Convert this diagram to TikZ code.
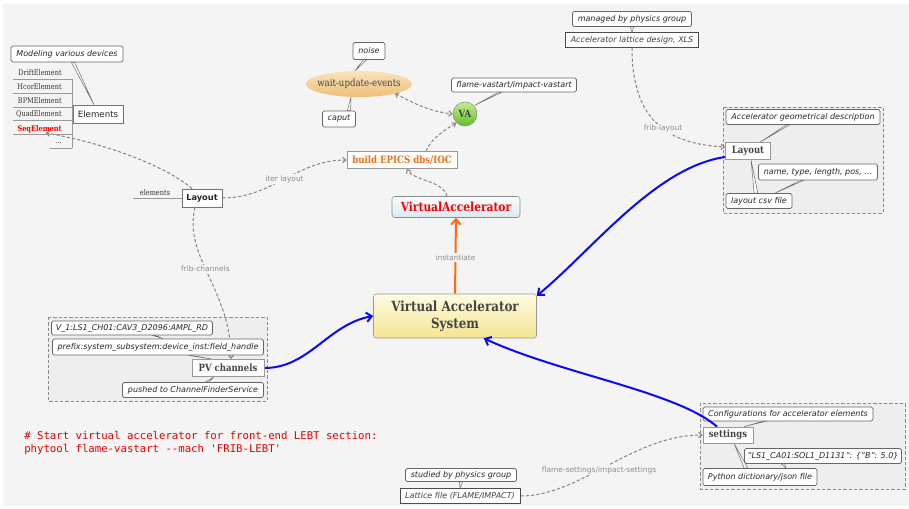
\documentclass[tikz,border=0pt]{standalone}
\usepackage{fontspec}
\setmainfont{DejaVu Sans}
\newfontfamily\slab{DejaVu Serif}[FakeStretch=0.85]
\newfontfamily\monof{DejaVu Sans Mono}
\usetikzlibrary{arrows.meta,calc,shapes.geometric}
\pgfdeclarelayer{back}
\pgfdeclarelayer{bg}
\pgfsetlayers{back,bg,main}
\definecolor{bggray}{HTML}{F4F4F4}
\definecolor{grpfill}{HTML}{EEEEEE}
\definecolor{dashc}{HTML}{8D817B}
\definecolor{lblc}{HTML}{8C8C8C}
\definecolor{vablue}{HTML}{0A0AF5}
\definecolor{vaorange}{HTML}{FF6A10}
\definecolor{buildorange}{HTML}{E8731A}
\definecolor{txtdark}{HTML}{444444}
\definecolor{elltop}{HTML}{FAE3BD}
\definecolor{ellbot}{HTML}{EEBE78}
\definecolor{vatop}{HTML}{C2EE8A}
\definecolor{vabot}{HTML}{62BE2C}
\definecolor{vacctop}{HTML}{FAFDFF}
\definecolor{vaccbot}{HTML}{D8EAF2}
\definecolor{vastop}{HTML}{FEFBE2}
\definecolor{vasbot}{HTML}{F5E592}
\tikzset{
  sz/.style 2 args={minimum width=#1*0.75pt, minimum height=#2*0.75pt},
  callbox/.style={draw=black!60, fill=white, rounded corners=1.2pt, inner sep=0pt,
    font=\itshape\fontsize{6}{7}\selectfont, text=black!85, line width=0.5pt},
  srcbox/.style={draw=black!70, fill=white, inner sep=0pt, line width=0.7pt,
    font=\itshape\fontsize{6}{7}\selectfont, text=black!75},
  plainbox/.style={draw=black!55, fill=white, inner sep=0pt, line width=0.5pt},
  slabbox/.style={draw=black!40, fill=white, inner sep=0pt, line width=0.5pt,
    font=\slab\bfseries\fontsize{7.5}{9}\selectfont, text=txtdark},
  itemtxt/.style={inner sep=0pt, font=\slab\fontsize{5.8}{7}\selectfont, text=black!80},
  itemline/.style={draw=black!40, line width=0.7pt},
  grpbox/.style={draw=black!45, dash pattern=on 2.5pt off 1.5pt, fill=grpfill, line width=0.6pt},
  dconn/.style={draw=dashc, line width=0.75pt, dash pattern=on 2.4pt off 1.6pt,
    -{Straight Barb[length=2.5pt,width=4pt]}},
  dlbl/.style={font=\fontsize{5.6}{7}\selectfont, text=lblc, inner sep=1pt},
  bconn/.style={draw=vablue, line width=1.5pt, -{Straight Barb[length=4pt,width=7pt]}},
  tailst/.style={draw=black!55, fill=white, line width=0.4pt, line join=miter},
}
% tail: base node anchor, x offset, tip node anchor, x offset, half width
\newcommand\tailw[5]{%
  \begin{pgfonlayer}{bg}
  \filldraw[tailst] ($(#1)+(#2-#5,0)$) -- ($(#3)+(#4,0)$) -- ($(#1)+(#2+#5,0)$) -- cycle;
  \end{pgfonlayer}}
\begin{document}
\begin{tikzpicture}[x=0.75pt,y=-0.75pt]
\useasboundingbox (0,0) rectangle (909,508);
\begin{pgfonlayer}{back}
\fill[bggray] (3,4) rectangle (909,506);
% group boxes
\draw[grpbox] (48,317) rectangle (267,401);
\draw[grpbox] (723,107) rectangle (883,213);
\draw[grpbox] (700,403) rectangle (905,489);
\end{pgfonlayer}

% ---------- Elements ----------
\node[callbox, sz={112}{16}] (mod) at (67,54) {Modeling various devices};
\node[plainbox, sz={50}{18}, font=\fontsize{6.5}{8}\selectfont, text=black!85] (elems) at (98,114) {Elements};
\node[itemtxt, anchor=east] (drift) at (62,73) {DriftElement};
\node[itemtxt, anchor=east] (hcor) at (62,87) {HcorElement};
\node[itemtxt, anchor=east] (bpm) at (62,101) {BPMElement};
\node[itemtxt, anchor=east] (quad) at (62,114) {QuadElement};
\node[itemtxt, anchor=east, text=red, font=\slab\bfseries\fontsize{5.8}{7}\selectfont] (seq) at (62,129) {SeqElement};
\node[itemtxt, anchor=east] (dots) at (62,143) {...};
\draw[itemline] (13,79) -- (72,79);
\draw[itemline] (13,93) -- (72,93);
\draw[itemline] (13,107) -- (72,107);
\draw[itemline] (13,120) -- (72,120);
\draw[itemline] (13,134) -- (72,134);
\draw[itemline] (50,148) -- (72,148);
\draw[itemline] (72,79) -- (72,148);
\tailw{mod.south}{6}{elems.north}{-4}{1.6}

% ---------- Left Layout ----------
\node[plainbox, sz={40}{18}, font=\bfseries\fontsize{6.2}{7}\selectfont, text=black!85] (layL) at (202,198) {Layout};
\node[itemtxt, anchor=south] (elbl) at (155,196) {elements};
\draw[itemline] (133,198) -- (layL.west);

% ---------- top center ----------
\node[slabbox, sz={110}{17}, text=buildorange, font=\slab\bfseries\fontsize{7.6}{9}\selectfont] (build) at (402,160) {build EPICS dbs/IOC};
\node[circle, draw=black!45, line width=0.4pt, minimum size=24*0.75pt, inner sep=0pt,
      top color=vatop, bottom color=vabot,
      font=\slab\bfseries\fontsize{7.5}{9}\selectfont, text=txtdark] (va) at (465,114) {VA};
\node[ellipse, draw=none, minimum width=106*0.75pt, minimum height=26*0.75pt, inner sep=0pt,
      top color=elltop, bottom color=ellbot] (wait) at (359,84) {};
\node[inner sep=0pt, font=\slab\fontsize{7.6}{9}\selectfont, text=txtdark] (waittxt) at (wait.center) {wait-update-events};
\node[callbox, sz={32}{17}] (noise) at (369,51) {noise};
\node[callbox, sz={33}{16}] (caput) at (339,119) {caput};
\node[callbox, sz={125}{14}] (flame) at (514,85) {flame-vastart/impact-vastart};
\tailw{noise.south}{-4}{wait.north}{-4}{1.6}
\tailw{caput.north}{10}{wait.south}{-8}{1.6}
\tailw{flame.south}{-14}{va.north east}{1}{1.6}

\node[draw=black!45, rounded corners=2pt, sz={128}{21}, inner sep=0pt,
      top color=vacctop, bottom color=vaccbot,
      font=\slab\bfseries\fontsize{9.4}{11}\selectfont, text=red] (vacc) at (456,207) {VirtualAccelerator};
\node[draw=black!40, rounded corners=2pt, sz={163}{44}, inner sep=0pt, align=center,
      top color=vastop, bottom color=vasbot,
      font=\slab\bfseries\fontsize{10.5}{12.5}\selectfont, text=txtdark] (vas) at (455,316) {Virtual Accelerator\\System};

% ---------- right group ----------
\node[callbox, sz={154}{15}] (geo) at (803,117) {Accelerator geometrical description};
\node[slabbox, sz={45}{17}] (layR) at (748,151) {Layout};
\node[callbox, sz={119}{16}] (nameb) at (818,172) {name, type, length, pos, ...};
\node[callbox, sz={66}{15}] (csv) at (759,201) {layout csv file};
\node[callbox, sz={119}{15}] (managed) at (632,19) {managed by physics group};
\node[srcbox, sz={133}{15}] (xls) at (632,40) {Accelerator lattice design, XLS};
\tailw{geo.south}{-15}{layR.north}{12}{1.6}
\tailw{nameb.south}{-16}{csv.north}{16}{1.6}
\tailw{csv.north}{-3}{layR.south}{3}{1.8}
\tailw{managed.south}{0}{xls.north}{0}{1.6}

% ---------- PV group ----------
\node[callbox, sz={161}{14}] (v1) at (132,328) {V\_1:LS1\_CH01:CAV3\_D2096:AMPL\_RD};
\node[callbox, sz={211}{16}] (prefix) at (158,347) {prefix:system\_subsystem:device\_inst:field\_handle};
\node[slabbox, sz={72}{17}] (pv) at (228,368) {PV channels};
\node[callbox, sz={141}{15}] (pushed) at (193,390) {pushed to ChannelFinderService};
\tailw{v1.south}{22}{prefix.north}{5}{1.6}
\tailw{prefix.south}{32}{pv.north}{-16}{1.8}
\tailw{pushed.north}{14}{pv.south}{-14}{1.6}

% ---------- settings group ----------
\node[callbox, sz={170}{14}] (conf) at (788,414) {Configurations for accelerator elements};
\node[slabbox, sz={50}{16}] (sett) at (728,435) {settings};
\node[callbox, sz={157}{15}] (ls1) at (823,456) {"LS1\_CA01:SOL1\_D1131": \{"B": 5.0\}};
\node[callbox, sz={114}{17}] (py) at (760,477) {Python dictionary/json file};
\node[callbox, sz={111}{13}] (studied) at (461,475) {studied by physics group};
\node[srcbox, sz={120}{15}] (lattice) at (460,496) {Lattice file (FLAME/IMPACT)};
\tailw{conf.south}{-24}{sett.north}{16}{1.6}
\tailw{py.north}{-14}{sett.south}{6}{1.8}
\tailw{ls1.south}{-40}{py.north}{26}{1.6}
\tailw{studied.south}{0}{lattice.north}{0}{1.6}

% ---------- code ----------
\node[anchor=north west, inner sep=0pt, align=left, text=red!90!black,
      font=\monof\fontsize{8}{9.6}\selectfont] (code) at (24,431)
  {\# Start virtual accelerator for front-end LEBT section:\\phytool flame-vastart --mach 'FRIB-LEBT'};

% ---------- connectors ----------
\begin{pgfonlayer}{bg}
\draw[dconn] ($(layL.north)+(-10,0)$) .. controls +(-25,-22) and +(60,10) .. ($(seq.south)+(6,0)$);
\draw[dconn] (layL.east) .. controls +(50,0) and +(-50,0) .. node[dlbl, pos=0.5, fill=bggray] {iter layout} (build.west);
\draw[dconn] ($(layL.south)+(-7,0)$) .. controls +(-12,50) and +(0,-70) .. node[dlbl, pos=0.45, fill=bggray] {frib-channels} ($(pv.north)+(3,0)$);
\draw[dconn] ($(build.north)+(24,0)$) .. controls +(6,-14) and +(-12,8) .. (va.south west);
\draw[dconn] ($(vacc.north)+(-9,0)$) .. controls +(-4,-16) and +(6,12) .. ($(build.south)+(5,0)$);
\draw[dconn, {Straight Barb[length=2.5pt,width=4pt]}-{Straight Barb[length=2.5pt,width=4pt]}] ($(wait.south east)+(-2,0)$) .. controls +(20,10) and +(-25,-3) .. (va.west);
\draw[dconn] (xls.south) .. controls +(0,75) and +(-55,-3) .. node[dlbl, pos=0.55, fill=bggray] {frib-layout} ($(layR.west)+(0,-4)$);
\draw[dconn] (lattice.east) .. controls +(60,0) and +(-70,0) .. node[dlbl, pos=0.45, fill=bggray] {flame-settings/impact-settings} (sett.west);
\draw[draw=vaorange, line width=1.5pt, -{Straight Barb[length=4pt,width=7pt]}] (vas.north) -- node[dlbl, fill=bggray, pos=0.48] {instantiate} (vacc.south);
\draw[bconn] (pv.east) .. controls +(45,0) and +(-45,8) .. (vas.west);
\draw[bconn] ($(layR.west)+(0,6)$) .. controls +(-70,10) and +(55,-45) .. ($(vas.north east)+(0,2)$);
\end{pgfonlayer}
\draw[bconn] ($(sett.north)+(-11,0)$) .. controls +(-40,-35) and +(75,35) .. ($(vas.south east)+(-53,0)$);
\end{tikzpicture}
\end{document}
